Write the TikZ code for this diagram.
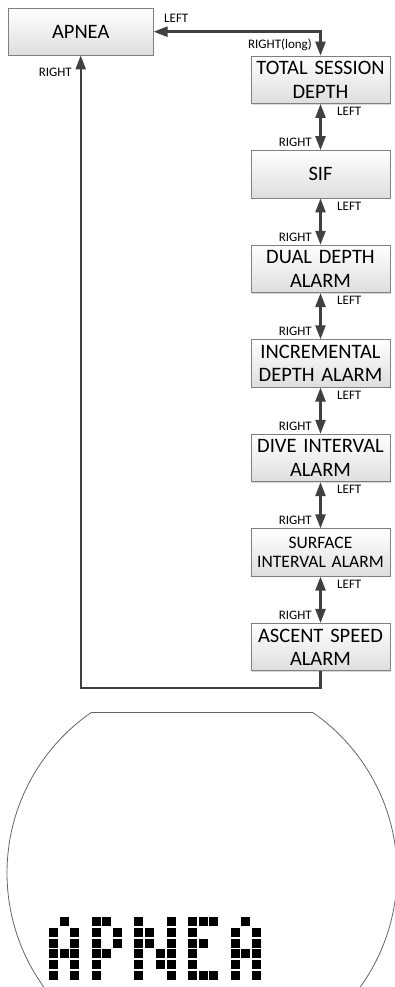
\documentclass[tikz,border=0pt]{standalone}
\usepackage{fontspec}
\setmainfont{Carlito}
\usetikzlibrary{arrows.meta,shadows}
\definecolor{linegray}{HTML}{404040}
\definecolor{boxline}{HTML}{808080}

\begin{document}
\begin{tikzpicture}[x=1pt,y=1pt,>={Triangle[length=14pt,width=10pt]}]
  \tikzstyle{box}=[draw=boxline, line width=0.8pt, top color=white, bottom color=black!13,
    minimum width=139pt, minimum height=47.5pt, text width=137pt, align=center, inner sep=0pt,
    font=\fontsize{20.5}{23.5}\selectfont,
    drop shadow={shadow xshift=1.2pt, shadow yshift=-1.2pt, opacity=0.3}]
  \tikzstyle{smallbox}=[box, font=\fontsize{17.5}{19}\selectfont]
  \tikzstyle{lbl}=[font=\fontsize{13}{14}\selectfont, inner sep=0pt]
  \tikzstyle{link}=[draw=linegray, line width=2.4pt]

  \useasboundingbox (0,0) rectangle (395,-987);

  \node[box, minimum width=145pt, minimum height=46.7pt] (apnea) at (80.7,-31.7) {APNEA};

  \node[box] (tsd) at (320.5,-79.8) {TOTAL SESSION\\DEPTH};
  \node[box] (sif) at (320.5,-174.3) {SIF};
  \node[box] (dual) at (320.5,-268.9) {DUAL DEPTH\\ALARM};
  \node[box] (incr) at (320.5,-363.4) {INCREMENTAL\\DEPTH ALARM};
  \node[box] (dive) at (320.5,-458.0) {DIVE INTERVAL\\ALARM};
  \node[smallbox] (surf) at (320.5,-552.5) {SURFACE\\INTERVAL ALARM};
  \node[box] (asc) at (320.5,-647.1) {ASCENT SPEED\\ALARM};

  \coordinate (turn) at (80.7,-688);

  \draw[link, <->] (apnea.east) -| (tsd.north);
  \node[lbl, anchor=west] (l0) at (164,-18) {LEFT};
  \node[lbl, anchor=east] (r0) at (312,-45) {RIGHT(long)};

  \draw[link, <->] (tsd.south) -- (sif.north);
  \node[lbl, anchor=west] (l1) at (337,-111.5) {LEFT};
  \node[lbl, anchor=east] (r1) at (312,-142.5) {RIGHT};
  \draw[link, <->] (sif.south) -- (dual.north);
  \node[lbl, anchor=west] (l2) at (337,-206.0) {LEFT};
  \node[lbl, anchor=east] (r2) at (312,-237.1) {RIGHT};
  \draw[link, <->] (dual.south) -- (incr.north);
  \node[lbl, anchor=west] (l3) at (337,-300.6) {LEFT};
  \node[lbl, anchor=east] (r3) at (312,-331.7) {RIGHT};
  \draw[link, <->] (incr.south) -- (dive.north);
  \node[lbl, anchor=west] (l4) at (337,-395.2) {LEFT};
  \node[lbl, anchor=east] (r4) at (312,-426.2) {RIGHT};
  \draw[link, <->] (dive.south) -- (surf.north);
  \node[lbl, anchor=west] (l5) at (337,-489.7) {LEFT};
  \node[lbl, anchor=east] (r5) at (312,-520.8) {RIGHT};
  \draw[link, <->] (surf.south) -- (asc.north);
  \node[lbl, anchor=west] (l6) at (337,-584.3) {LEFT};
  \node[lbl, anchor=east] (r6) at (312,-615.3) {RIGHT};

  \draw[link, ->] (asc.south) |- (turn) -- (apnea.south);
  \node[lbl, anchor=east] (ra) at (72,-72) {RIGHT};

  % watch face
  \begin{scope}
    \clip (0,-712.3) rectangle (395,-987);
    \draw[black!60, line width=0.8pt] (202,-873) circle[radius=195];
  \end{scope}
  \draw[black!60, line width=0.8pt] (91.5,-712.3) -- (312.5,-712.3);

  % dot matrix text
  \foreach \o in {0,17}
    \foreach \c/\r in {1/0,0/1,2/1,0/2,2/2,0/3,1/3,2/3,0/4,2/4,0/5,2/5}
      \fill (48.8+10.7*\o+10.7*\c,-917.3-10.67*\r) rectangle ++(9,-9);
  \foreach \c/\r in {0/0,1/0,0/1,2/1,0/2,2/2,0/3,1/3,0/4,0/5}
    \fill (48.8+10.7*4+10.7*\c,-917.3-10.67*\r) rectangle ++(9,-9);
  \foreach \c/\r in {0/0,3/0,0/1,1/1,3/1,0/2,1/2,3/2,0/3,2/3,3/3,0/4,2/4,3/4,0/5,3/5}
    \fill (48.8+10.7*8+10.7*\c,-917.3-10.67*\r) rectangle ++(9,-9);
  \foreach \c/\r in {0/0,1/0,2/0,0/1,0/2,1/2,0/3,0/4,0/5,1/5,2/5}
    \fill (48.8+10.7*13+10.7*\c,-917.3-10.67*\r) rectangle ++(9,-9);
\end{tikzpicture}
\end{document}
